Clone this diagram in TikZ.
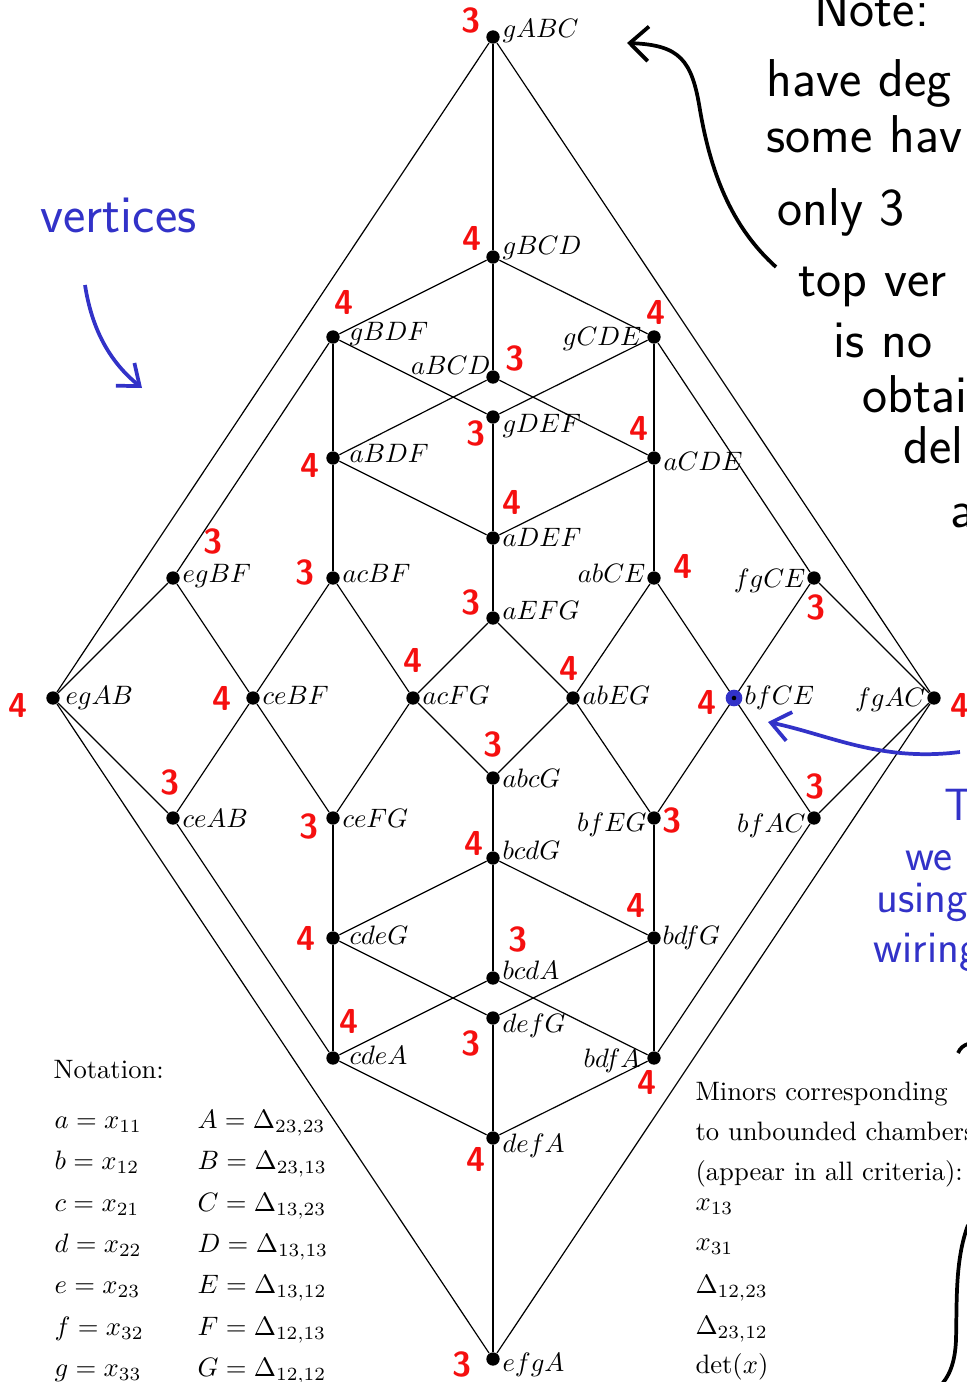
\documentclass[tikz,border=0pt]{standalone}
\usepackage{amsmath, amssymb}
\usepackage{tikz}
\usetikzlibrary{arrows.meta}
\usepackage{xcolor}
\definecolor{penred}{RGB}{245,15,15}
\definecolor{penblue}{RGB}{50,50,200}

\begin{document}
\begin{tikzpicture}[x=0.0132cm, y=-0.0132cm,
            vtx/.style={circle, fill=black, inner sep=0pt, minimum size=5pt},
            edge/.style={line width=0.45pt},
            vedge/.style={line width=1.1pt},
            lblr/.style={anchor=base west, inner sep=0pt},
            lbll/.style={anchor=base east, inner sep=0pt},
            deg/.style={text=penred, inner sep=0pt, font=\sffamily\bfseries\fontsize{13}{13}\selectfont},
            hand/.style={anchor=base west, inner sep=0pt, font=\sffamily\fontsize{20}{20}\selectfont},
            txt/.style={anchor=base west, inner sep=0pt}]
            \clip (0,0) rectangle (967,1382);
            % vertices of the graph
            \foreach \p/\x/\y in {gABC/493/37, gBCD/493/257, gBDF/333/337, gCDE/654/337,
                aBCD/493/377, gDEF/493/417, aBDF/333/458, aCDE/654/458, aDEF/493/538,
                egBF/173/578, acBF/333/578, abCE/654/578, fgCE/814/578, aEFG/493/618,
                egAB/53/698, ceBF/253/698, acFG/413/698, abEG/573/698, bfCE/734/698, fgAC/934/698,
                abcG/493/778, ceAB/173/818, ceFG/333/818, bfEG/654/818, bfAC/814/818,
                bcdG/493/858, cdeG/333/938, bdfG/654/938, bcdA/493/978, defG/493/1018,
                cdeA/333/1058, bdfA/654/1058, defA/493/1138, efgA/493/1359}
                \node[vtx] (\p) at (\x,\y) {};
            % edges
            \foreach \a/\b in {gABC/egAB, gABC/fgAC, gBCD/gBDF, gBCD/gCDE,
                gBDF/gDEF, gCDE/gDEF, aBCD/aBDF, aBCD/aCDE, aBDF/aDEF, aCDE/aDEF,
                gBDF/egBF, gCDE/fgCE, egBF/egAB, egBF/ceBF, acBF/ceBF, acBF/acFG,
                aEFG/acFG, aEFG/abEG, abCE/abEG, abCE/bfCE, fgCE/bfCE, fgCE/fgAC,
                egAB/ceAB, ceBF/ceAB, ceBF/ceFG, acFG/ceFG, acFG/abcG, abEG/abcG,
                abEG/bfEG, bfCE/bfEG, bfCE/bfAC, fgAC/bfAC, egAB/efgA, fgAC/efgA,
                ceAB/cdeA, bfAC/bdfA, bcdG/cdeG, bcdG/bdfG, cdeG/defG, bdfG/defG,
                bcdA/cdeA, bcdA/bdfA, cdeA/defA, bdfA/defA}
                \draw[edge] (\a) -- (\b);
            \foreach \a/\b in {gABC/gBCD, gBCD/aBCD, gDEF/aDEF, aDEF/aEFG,
                gBDF/aBDF, aBDF/acBF, gCDE/aCDE, aCDE/abCE, abcG/bcdG, bcdG/bcdA,
                defG/defA, defA/efgA, ceFG/cdeG, cdeG/cdeA, bfEG/bdfG, bdfG/bdfA}
                \draw[vedge] (\a) -- (\b);
            % highlighted vertex
            \fill[penblue] (bfCE) circle[radius=0.11cm];
            \fill (bfCE) circle[radius=0.03cm];
            % vertex labels
            \foreach \p/\dx/\dy in {gABC/9/0, gBCD/9/-3, gBDF/16/3, gDEF/9/15, aBDF/16/4,
                aCDE/9/12, aDEF/9/8, egBF/9/4, acBF/9/4, aEFG/9/1, egAB/12/6, ceBF/9/6,
                acFG/9/6, abEG/9/6, bfCE/10/6, abcG/9/9, ceAB/9/9, ceFG/9/9, bcdG/9/1,
                cdeG/16/6, bdfG/8/6, bcdA/9/1, defG/9/14, cdeA/16/6, defA/9/14, efgA/9/12}
                \node[lblr] (l\p) at ([shift={(\dx,\dy)}]\p) {$\p$};
            \foreach \p/\dx/\dy in {gCDE/-12/8, aBCD/-2/-3, abCE/-8/4, fgCE/-8/9,
                fgAC/-8/8, bfEG/-7/13, bfAC/-8/14, bdfA/-13/9}
                \node[lbll] (l\p) at ([shift={(\dx,\dy)}]\p) {$\p$};
            % degrees written in red
            \foreach \p/\n/\dx/\dy in {gABC/3/-22/-17, gBCD/4/-21/-19, gBDF/4/11/-35,
                gCDE/4/2/-25, aBCD/3/22/-19, gDEF/3/-17/16, aBDF/4/-23/7, aCDE/4/-15/-30,
                aDEF/4/19/-36, egBF/3/40/-37, acBF/3/-28/-6, abCE/4/29/-12, aEFG/3/-22/-16,
                fgCE/3/2/29, egAB/4/-35/7, ceBF/4/-31/0, acFG/4/0/-38, abEG/4/-4/-30,
                bfCE/4/-27/4, fgAC/4/26/7, abcG/3/0/-34, ceAB/3/-3/-36, ceFG/3/-24/8,
                bfEG/3/18/2, bfAC/3/1/-32, bcdG/4/-19/-15, cdeG/4/-27/0, bdfG/4/-18/-33,
                bcdA/3/25/-39, defG/3/-22/25, cdeA/4/16/-37, bdfA/4/-7/24, defA/4/-17/21,
                efgA/3/-31/5}
                \node[deg] (d\p) at ([shift={(\dx,\dy)}]\p) {\n};
            % notation
            \node[txt] (nota) at (53,1078) {Notation:};
            \foreach \i/\l/\s/\L/\S/\y in {1/a/11/A/{23,23}/1128, 2/b/12/B/{23,13}/1169,
                3/c/21/C/{13,23}/1211, 4/d/22/D/{13,13}/1252, 5/e/23/E/{13,12}/1293,
                6/f/32/F/{12,13}/1335, 7/g/33/G/{12,12}/1376}
            {
                \node[txt] (var\i) at (54,\y) {$\l = x_{\s}$};
                \node[txt] (min\i) at (197,\y) {$\L = \Delta_{\S}$};
            }
            % minors of unbounded chambers
            \node[txt] (mn1) at (695,1100) {Minors corresponding};
            \node[txt] (mn2) at (695,1140) {to unbounded chambers};
            \node[txt] (mn3) at (695,1180) {(appear in all criteria):};
            \node[txt] (mn4) at (695,1210) {$x_{13}$};
            \node[txt] (mn5) at (695,1250) {$x_{31}$};
            \node[txt] (mn6) at (695,1293) {$\Delta_{12,23}$};
            \node[txt] (mn7) at (695,1334) {$\Delta_{23,12}$};
            \node[txt] (mn8) at (695,1373) {$\det(x)$};
            % handwritten notes
            \node[hand, text=penblue] (hv) at (40,232) {vertices};
            \draw[penblue, line width=1.4pt, -{Straight Barb[length=7pt,width=11pt]}]
                (85,285) .. controls (92,330) and (110,362) .. (142,388);
            \draw[penblue, line width=1.4pt, -{Straight Barb[length=7pt,width=11pt]}]
                (960,752) .. controls (880,762) and (830,735) .. (768,722);
            \node[hand, text=penblue, font=\sffamily\fontsize{17}{17}\selectfont] (hb1) at (944,820) {T};
            \node[hand, text=penblue, font=\sffamily\fontsize{17}{17}\selectfont] (hb2) at (905,870) {we};
            \node[hand, text=penblue, font=\sffamily\fontsize{17}{17}\selectfont] (hb3) at (876,912) {using};
            \node[hand, text=penblue, font=\sffamily\fontsize{17}{17}\selectfont] (hb4) at (873,962) {wiring};
            \node[hand] (hn1) at (814,26) {Note:};
            \node[hand] (hn2) at (766,96) {have deg};
            \node[hand] (hn3) at (766,152) {some hav};
            \node[hand] (hn4) at (777,225) {only 3};
            \node[hand] (hn5) at (798,296) {top ver};
            \node[hand] (hn6) at (833,357) {is no};
            \node[hand] (hn7) at (862,412) {obtain};
            \node[hand] (hn8) at (903,463) {del};
            \node[hand] (hn9) at (950,527) {a};
            \draw[line width=1.4pt, -{Straight Barb[length=7pt,width=13pt]}]
                (776,267) .. controls (735,230) and (712,180) .. (700,110)
                .. controls (692,60) and (680,45) .. (627,43);
            \draw[line width=1.4pt] (958,1053) .. controls (960,1048) and (964,1045) .. (968,1044);
            \draw[line width=1.4pt] (968,1225) .. controls (955,1260) and (957,1300) .. (956,1340)
                .. controls (955,1365) and (948,1378) .. (940,1386);
        \end{tikzpicture}
\end{document}
